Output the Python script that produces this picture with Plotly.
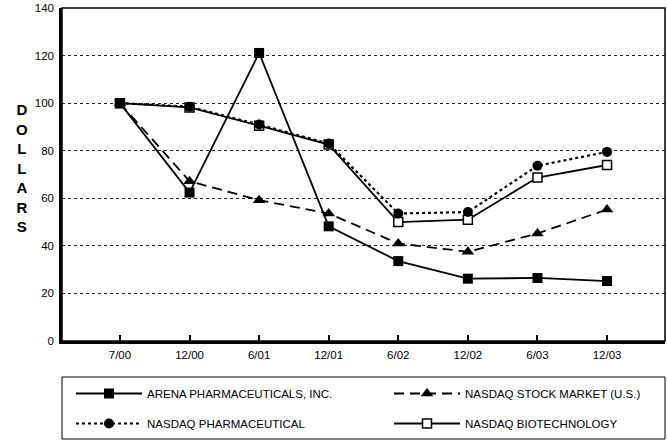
import plotly.graph_objects as go

periods = ["7/00", "12/00", "6/01", "12/01", "6/02", "12/02", "6/03", "12/03"]
arena = [100, 62.4, 121.1, 48.2, 33.6, 26.2, 26.5, 25.2]
nasdaq_market = [100, 67.2, 59.2, 53.6, 41.0, 37.5, 45.2, 55.3]
nasdaq_pharma = [100, 98.5, 91.0, 83.0, 53.6, 54.2, 73.7, 79.5]
nasdaq_biotech = [100, 98.2, 90.5, 82.6, 50.0, 51.0, 68.7, 74.0]
y_ticks = [0, 20, 40, 60, 80, 100, 120, 140]

FONT = "Liberation Sans, Arial, sans-serif"

fig = go.Figure()
fig.add_trace(go.Scatter(
    x=periods, y=nasdaq_biotech, name="NASDAQ BIOTECHNOLOGY", mode="lines+markers",
    line=dict(color="black", width=1.8),
    marker=dict(symbol="square", size=9, color="white", line=dict(color="black", width=1.5)),
    legend="legend2", legendgroup="d", legendrank=2))
fig.add_trace(go.Scatter(
    x=periods, y=nasdaq_market, name="NASDAQ STOCK MARKET (U.S.)", mode="lines+markers",
    line=dict(color="black", width=1.8, dash="10px,6px"),
    marker=dict(symbol="triangle-up", size=11, color="black"),
    legend="legend2", legendgroup="b", legendrank=1))
fig.add_trace(go.Scatter(
    x=periods, y=nasdaq_pharma, name="NASDAQ PHARMACEUTICAL", mode="lines+markers",
    line=dict(color="black", width=2.2, dash="dot"),
    marker=dict(symbol="circle", size=10, color="black"),
    legend="legend", legendgroup="c", legendrank=2))
fig.add_trace(go.Scatter(
    x=periods, y=arena, name="ARENA PHARMACEUTICALS, INC.", mode="lines+markers",
    line=dict(color="black", width=1.8),
    marker=dict(symbol="square", size=10, color="black"),
    legend="legend", legendgroup="a", legendrank=1))

# frame (top/right thinner lines)
fig.add_shape(type="rect", xref="paper", yref="paper", x0=0, x1=1, y0=0, y1=1,
              line=dict(color="black", width=1.5), layer="above")
# legend box
fig.add_shape(type="rect", xref="paper", yref="paper", x0=0, x1=1,
              y0=(341 - 377) / 333, y1=(341 - 439) / 333,
              line=dict(color="black", width=1))

fig.add_annotation(text="D<br>O<br>L<br>L<br>A<br>R<br>S", xref="paper", yref="paper",
                   x=(22 - 62) / 603, y=(341 - 167.5) / 333, showarrow=False,
                   font=dict(family=FONT, size=15, color="black", weight="bold"),
                   xanchor="center", yanchor="middle", align="center")

leg_common = dict(orientation="v", bgcolor="rgba(0,0,0,0)", borderwidth=0,
                  font=dict(family=FONT, size=11.5, color="black"),
                  traceorder="grouped", tracegroupgap=11, itemwidth=66,
                  yanchor="top", xanchor="left", y=(341 - 379) / 333)

fig.update_layout(
    width=667, height=440,
    margin=dict(l=62, r=2, t=8, b=99, autoexpand=False),
    paper_bgcolor="white", plot_bgcolor="white",
    font=dict(family=FONT, size=12, color="black"),
    showlegend=True,
    legend=dict(**leg_common, x=(71 - 62) / 603),
    legend2=dict(**leg_common, x=(389 - 62) / 603),
    xaxis=dict(type="category", categoryorder="array", categoryarray=periods,
               range=[-0.833, 7.833], showline=True, linecolor="black", linewidth=2.5,
               ticks="inside", ticklen=6, tickcolor="black", tickwidth=1.5,
               showgrid=False, zeroline=False, ticklabelstandoff=1, automargin=False,
               tickfont=dict(family=FONT, size=11.5, color="black")),
    yaxis=dict(range=[0, 140], tickvals=y_ticks, showline=True, linecolor="black",
               linewidth=2.5, ticks="", showgrid=True, gridcolor="#222",
               griddash="dot", gridwidth=1.2, zeroline=False, ticklabelstandoff=3,
               automargin=False,
               tickfont=dict(family=FONT, size=11.5, color="black")),
)

fig.write_html("out.html", config={"displayModeBar": False},
               post_script="document.body.style.margin='0';")
